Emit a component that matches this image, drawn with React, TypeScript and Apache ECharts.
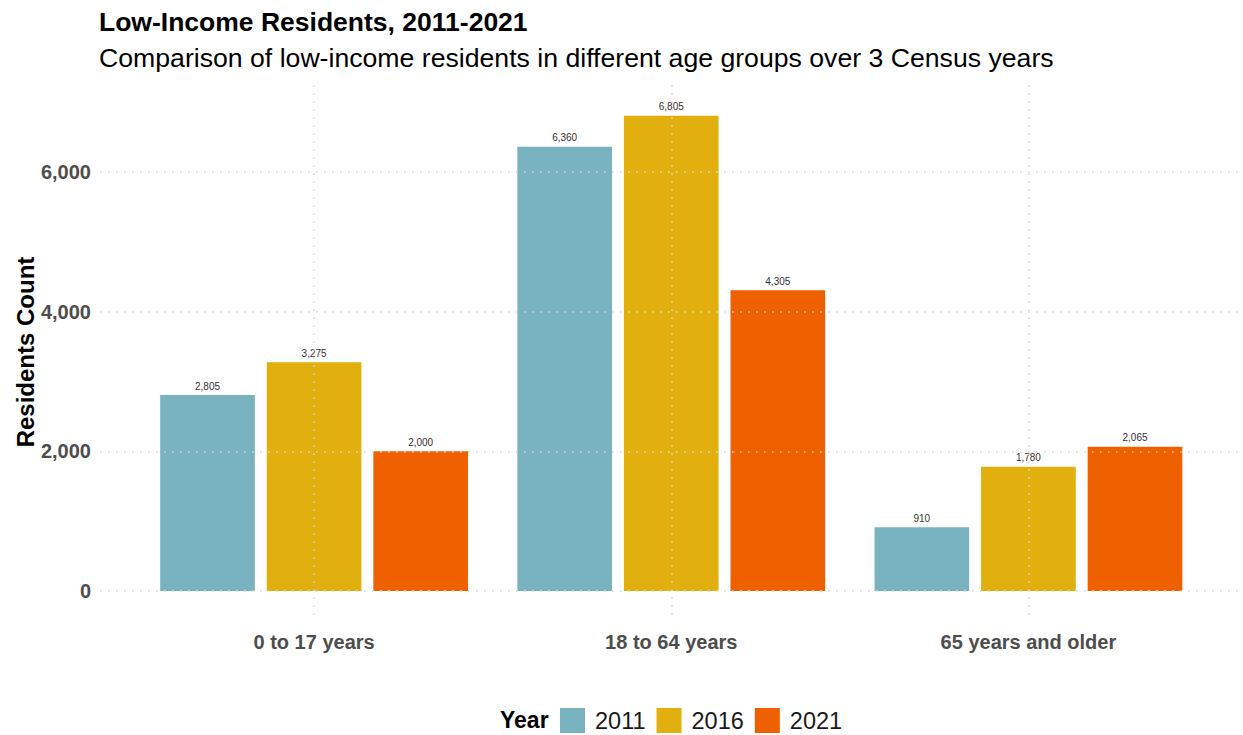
import React, { useEffect, useRef } from "react";
import * as echarts from "echarts";

const categories = ["0 to 17 years", "18 to 64 years", "65 years and older"];
const years = ["2011", "2016", "2021"];
const values2011 = [2805, 6360, 910];
const values2016 = [3275, 6805, 1780];
const values2021 = [2000, 4305, 2065];
const yTicks = [0, 2000, 4000, 6000];
const colors = ["#78B3BF", "#E1B00E", "#EE6000"];

const FONT = "Liberation Sans, Arial, Helvetica, sans-serif";
const Y_MIN = -345;
const Y_MAX = 7260;

export default function App() {
  const ref = useRef<HTMLDivElement>(null);

  useEffect(() => {
    if (!ref.current) return;
    const chart = echarts.init(ref.current, undefined, { renderer: "svg" });
    const fmt = (v: number) => v.toLocaleString("en-US");
    const gridLine = {
      color: "#d6d6d6",
      width: 1.6,
      type: [1.6, 6.4] as any,
    };
    const seriesValues = [values2011, values2016, values2021];

    const option: any = {
      animation: false,
      backgroundColor: "#ffffff",
      textStyle: { fontFamily: FONT },
      title: [
        {
          text: "Low-Income Residents, 2011-2021",
          left: 99,
          top: 8,
          padding: 0,
          textStyle: { fontFamily: FONT, fontSize: 26.5, fontWeight: "bold", color: "#000000" },
        },
        {
          text: "Comparison of low-income residents in different age groups over 3 Census years",
          left: 99,
          top: 44,
          padding: 0,
          textStyle: { fontFamily: FONT, fontSize: 26.65, fontWeight: "normal", color: "#000000" },
        },
      ],
      graphic: [
        {
          type: "text",
          left: 500,
          top: 708,
          style: {
            text: "Year",
            font: `bold 23px ${FONT}`,
            fill: "#000000",
          },
        },
        {
          type: "text",
          x: 25,
          y: 352,
          rotation: Math.PI / 2,
          style: {
            text: "Residents Count",
            font: `bold 24px ${FONT}`,
            fill: "#000000",
            align: "center",
            verticalAlign: "middle",
          },
        },
      ],
      legend: {
        data: years,
        left: 560,
        top: 708,
        itemWidth: 25,
        itemHeight: 25,
        itemGap: 11,
        icon: "rect",
        padding: 0,
        textStyle: { fontFamily: FONT, fontSize: 23.5, color: "#1a1a1a", padding: [0, 0, 0, 5] },
      },
      grid: [
        { left: 100, right: 0, top: 84, bottom: 120 },
        { left: 135.5, right: 36, top: 84, bottom: 120 },
      ],
      xAxis: [
        { type: "value", gridIndex: 0, min: 0, max: 1, show: false },
        {
          type: "category",
          gridIndex: 1,
          data: categories,
          axisLine: { show: false, onZero: false },
          axisTick: { show: false },
          splitLine: { show: false },
          axisLabel: {
            fontFamily: FONT,
            fontSize: 20,
            fontWeight: "bold",
            color: "#4d4d4d",
            margin: 17,
          },
        },
      ],
      yAxis: [
        {
          type: "value",
          gridIndex: 0,
          min: Y_MIN,
          max: Y_MAX,
          axisLine: { show: false },
          axisTick: { show: false },
          splitLine: { show: false },
          axisLabel: {
            customValues: yTicks,
            formatter: (v: number) => fmt(v),
            fontFamily: FONT,
            fontSize: 20,
            fontWeight: "bold",
            color: "#4d4d4d",
            margin: 9,
          },
        },
        {
          type: "value",
          gridIndex: 1,
          min: Y_MIN,
          max: Y_MAX,
          show: false,
          splitLine: { show: false },
        },
      ],
      series: [
        {
          type: "line",
          xAxisIndex: 0,
          yAxisIndex: 0,
          data: [],
          z: 0,
          silent: true,
          markLine: {
            silent: true,
            symbol: "none",
            label: { show: false },
            lineStyle: gridLine,
            emphasis: { disabled: true },
            data: yTicks.map((t) => ({ yAxis: t })),
          },
        },
        {
          type: "line",
          xAxisIndex: 1,
          yAxisIndex: 1,
          data: [],
          z: 0,
          silent: true,
          markLine: {
            silent: true,
            symbol: "none",
            label: { show: false },
            lineStyle: gridLine,
            emphasis: { disabled: true },
            data: categories.map((c) => ({ xAxis: c })),
          },
        },
        ...years.map((y, i) => ({
          name: y,
          type: "bar",
          xAxisIndex: 1,
          yAxisIndex: 1,
          data: seriesValues[i],
          barWidth: "26.5%",
          barGap: "12.6%",
          z: 2,
          itemStyle: { color: colors[i] },
          label: {
            show: true,
            position: "top",
            distance: 4,
            formatter: (p: any) => fmt(p.value),
            fontFamily: FONT,
            fontSize: 10,
            color: "#333333",
          },
        })),
      ],
    };

    chart.setOption(option);
    return () => chart.dispose();
  }, []);

  return (
    <div
      ref={ref}
      style={{ position: "fixed", left: 0, top: 0, width: 1243, height: 735 }}
    />
  );
}
